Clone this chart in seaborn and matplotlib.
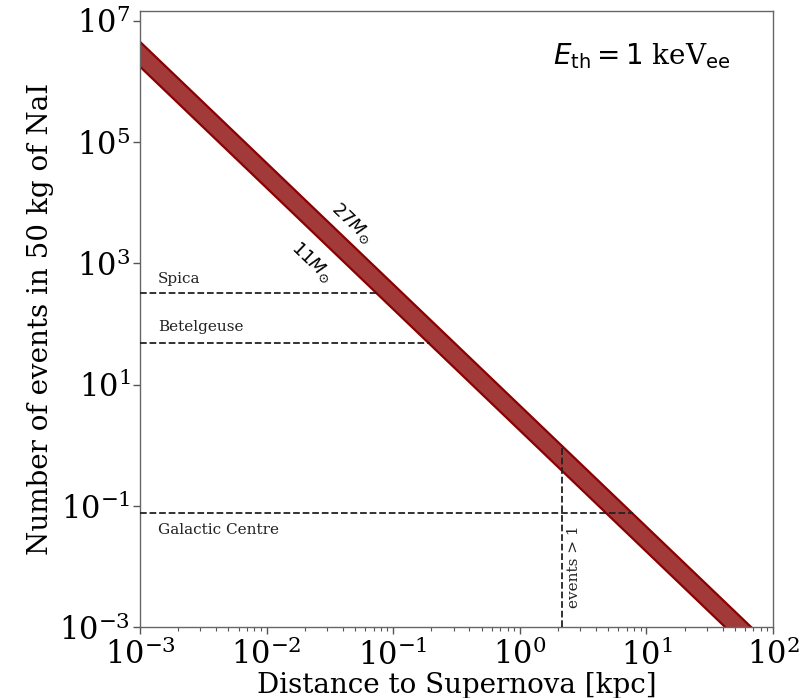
import numpy as np
import pandas as pd
import matplotlib
matplotlib.use("Agg")
import matplotlib.pyplot as plt
import seaborn as sns

# ---- data ----
distance_kpc = [1e-3, 1e-2, 1e-1, 1e0, 1e1, 1e2]
events_27msun = [4.5e6, 4.5e4, 450.0, 4.5, 0.045, 4.5e-4]
events_11msun = [1.75e6, 1.75e4, 175.0, 1.75, 0.0175, 1.75e-4]

star_names = ["Spica", "Betelgeuse", "Galactic Centre"]
star_distance = [0.076, 0.196, 7.9]
star_events = [320.0, 48.0, 0.077]
star_label_y = [560.0, 90.0, 0.040]

events_gt1_distance = 2.15
events_gt1_top = 0.95

xticks = [1e-3, 1e-2, 1e-1, 1e0, 1e1, 1e2]
yticks = [1e-3, 1e-1, 1e1, 1e3, 1e5, 1e7]

# ---- styling ----
sns.set_style("ticks")
plt.rcParams["font.family"] = ["DejaVu Serif"]
plt.rcParams["mathtext.fontset"] = "dejavusans"
plt.rcParams["text.color"] = "black"
plt.rcParams["axes.labelcolor"] = "black"
plt.rcParams["xtick.labelcolor"] = "black"
plt.rcParams["ytick.labelcolor"] = "black"

fig = plt.figure(figsize=(8.02, 6.98), dpi=100)
ax = fig.add_axes([140/802, 1-627/698, (773-140)/802, (627-11)/698])

df = pd.DataFrame({
    "distance": distance_kpc * 2,
    "events": events_27msun + events_11msun,
    "model": ["27"] * len(distance_kpc) + ["11"] * len(distance_kpc),
})
ax.fill_between(distance_kpc, events_11msun, events_27msun,
                color="#a23a3a", linewidth=0, zorder=1)
sns.lineplot(data=df, x="distance", y="events", units="model", estimator=None,
             color="#8b0000", linewidth=1.6, ax=ax, zorder=2, legend=False)

ax.set_xscale("log")
ax.set_yscale("log")
ax.set_xlim(1e-3, 1e2)
ax.set_ylim(1e-3, 1.45e7)

# reference lines
for name, d, n, ly in zip(star_names, star_distance, star_events, star_label_y):
    ax.plot([1e-3, d], [n, n], ls="--", color="#222222", lw=1.3, zorder=3)
    ax.text(1.38e-3, ly, name, fontsize=11, color="#222222", va="center", ha="left")

ax.plot([events_gt1_distance, events_gt1_distance], [1e-3, events_gt1_top],
        ls="--", color="#222222", lw=1.3, zorder=3)
ax.text(2.7, 1.0e-2, "events > 1", rotation=90, fontsize=11, color="#222222",
        va="center", ha="center")

ax.text(0.0474, 4580, r"$27M_{\odot}$", rotation=-43.7, fontsize=13,
        ha="center", va="center", rotation_mode="anchor")
ax.text(0.0229, 1040, r"$11M_{\odot}$", rotation=-43.7, fontsize=13,
        ha="center", va="center", rotation_mode="anchor")

ax.text(0.932, 0.927, r"$E_{\rm th} = 1$ keV$_{\rm ee}$", transform=ax.transAxes,
        fontsize=20, ha="right", va="center")

ax.set_xticks(xticks)
ax.set_yticks(yticks)
ax.yaxis.set_minor_locator(matplotlib.ticker.NullLocator())
ax.tick_params(axis="both", which="major", labelsize=22, length=5, width=1,
               color="#555555", pad=2)
ax.tick_params(axis="x", which="major", pad=4)
ax.tick_params(axis="x", which="minor", length=3, width=0.8, color="#555555")
for s in ax.spines.values():
    s.set_color("#666666")
    s.set_linewidth(1.0)

ax.set_xlabel("Distance to Supernova [kpc]", fontsize=20, labelpad=0)
ax.set_ylabel("Number of events in 50 kg of NaI", fontsize=20, labelpad=4)

fig.savefig("out.png", dpi=100)
